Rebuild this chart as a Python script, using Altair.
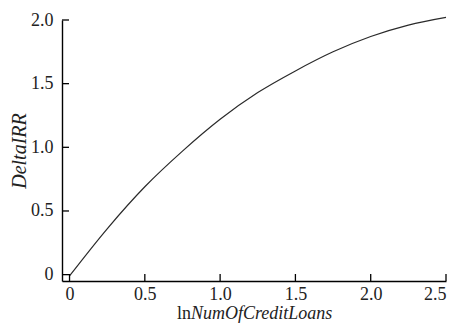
import altair as alt
import pandas as pd

# Data
x_vals = [0.0, 0.25, 0.5, 0.75, 1.0, 1.25, 1.5, 1.75, 2.0, 2.25, 2.5]
y_vals = [-0.01, 0.36, 0.69, 0.97, 1.22, 1.43, 1.60, 1.75, 1.87, 1.96, 2.02]
x_ticks = [0.0, 0.5, 1.0, 1.5, 2.0, 2.5]
y_ticks = [0.0, 0.5, 1.0, 1.5, 2.0]
x_title_plain = "ln"
x_title_italic = "NumOfCreditLoans"
y_title = "DeltaIRR"

W, H = 384, 261
PL, PT, PR, PB = 54, 12, 11, 42
FONT = "Liberation Serif"
FS = 18
TFS = 18

df = pd.DataFrame({"x": x_vals, "y": y_vals})
xt = pd.DataFrame({"v": x_ticks})
yt = pd.DataFrame({"v": y_ticks})

xs = alt.Scale(domain=[-0.05, 2.5], nice=False, zero=False)
ys = alt.Scale(domain=[-0.05, 2.0], nice=False, zero=False)

lab0 = "datum.value == 0 ? '0' : format(datum.value, '.1f')"

line = alt.Chart(df).mark_line(color="#2a2a2a", strokeWidth=1.2, interpolate="monotone").encode(
    x=alt.X("x:Q", scale=xs,
            axis=alt.Axis(values=x_ticks, labelExpr=lab0, ticks=False, grid=False,
                          domainColor="black", domainWidth=1.4, labelFont=FONT,
                          labelFontSize=FS, labelColor="#222222", labelPadding=4,
                          title=None)),
    y=alt.Y("y:Q", scale=ys,
            axis=alt.Axis(values=y_ticks, labelExpr=lab0, ticks=False, grid=False,
                          domainColor="black", domainWidth=1.4, labelFont=FONT,
                          labelFontSize=FS, labelColor="#222222", labelPadding=9,
                          title=y_title, titleFont=FONT, titleFontSize=20,
                          titleFontStyle="italic", titleFontWeight="normal",
                          titleColor="#222222", titlePadding=1)),
)

xtick = alt.Chart(xt).mark_rule(color="black", strokeWidth=1.3).encode(
    x=alt.X("v:Q", scale=xs), y=alt.value(H), y2=alt.value(H - 7)
)
ytick = alt.Chart(yt).mark_rule(color="black", strokeWidth=1.3).encode(
    y=alt.Y("v:Q", scale=ys), x=alt.value(0), x2=alt.value(7)
)

SPLIT = 129
t_plain = alt.Chart(pd.DataFrame({"t": [x_title_plain]})).mark_text(
    font=FONT, fontSize=TFS, align="right", baseline="alphabetic", color="#222222"
).encode(text="t:N", x=alt.value(SPLIT), y=alt.value(H + 38))
t_ital = alt.Chart(pd.DataFrame({"t": [x_title_italic]})).mark_text(
    font=FONT, fontSize=TFS, fontStyle="italic", align="left", baseline="alphabetic",
    color="#222222"
).encode(text="t:N", x=alt.value(SPLIT), y=alt.value(H + 38))

chart = alt.layer(line, xtick, ytick, t_plain, t_ital).properties(
    width=W, height=H, background="white",
    autosize=alt.AutoSizeParams(type="none"),
    padding={"left": PL, "top": PT, "right": PR, "bottom": PB}
).configure_view(stroke=None)

chart.save("out.html", embed_options={"renderer": "svg", "actions": False})
